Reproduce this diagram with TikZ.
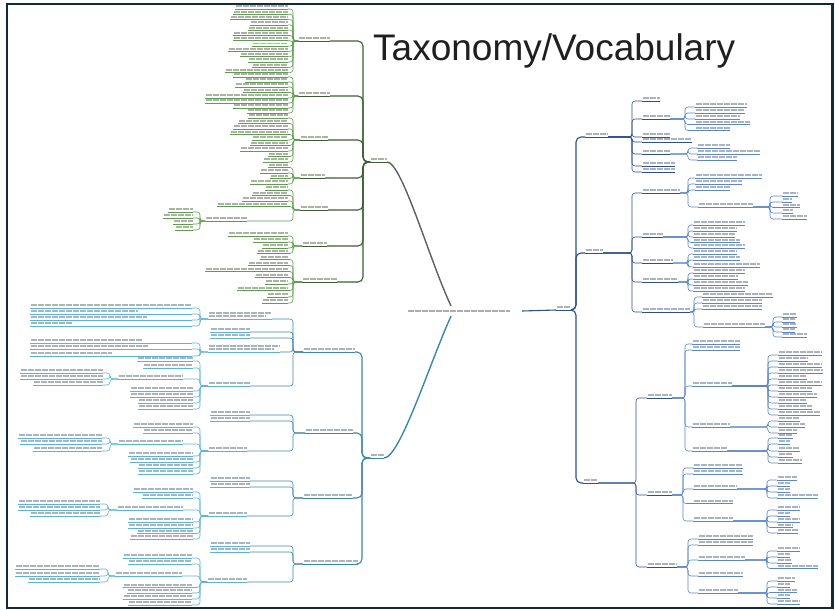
\documentclass[tikz,border=0pt]{standalone}
\usepackage{fontspec}
\newfontfamily\titlefont{Liberation Sans}
\definecolor{frame}{HTML}{0E2A40}
\definecolor{gmain}{HTML}{3F5E36}
\definecolor{gleaf}{HTML}{5E9E4E}
\definecolor{gtext}{HTML}{ABB3A6}
\definecolor{bmain}{HTML}{3C88A8}
\definecolor{bleaf}{HTML}{58B4D8}
\definecolor{btext}{HTML}{A8B5C0}
\definecolor{rmain}{HTML}{2E4F8C}
\definecolor{rleaf}{HTML}{5C86C4}
\definecolor{rtext}{HTML}{AAB3C4}
\definecolor{ctext}{HTML}{ADADAD}
\definecolor{spine}{HTML}{5A625A}

% a label: underline from x1 to x2 at height y, text drawn as a grey bar above it
\newcommand{\lblt}[7]{%
  \node[lab, minimum width={#3-#2}] (#1) at (#2,#4) {};
  \draw[ul, #5] (#1.west) -- (#1.east);
  \draw[txtbar] (#6+0.5,#4-2.6) -- (#7-0.5,#4-2.6);
}
\newcommand{\lbl}[5]{\lblt{#1}{#2}{#3}{#4}{#5}{#2}{#3}}
% two-line label
\newcommand{\lbltwo}[5]{%
  \node[lab, minimum width={#3-#2}] (#1) at (#2,#4) {};
  \draw[ul, #5] (#1.west) -- (#1.east);
  \draw[txtbar] (#2+0.5,#4-6.2) -- (#3-0.5,#4-6.2);
  \draw[txtbar] (#2+0.5,#4-2.6) -- (#3-6,#4-2.6);
}
% elbow connectors
\newcommand{\linkL}[4]{\draw[#4] (#1.west) -- ++(-#3,0) |- (#2.east);}
\newcommand{\linkR}[4]{\draw[#4] (#1.east) -- ++(#3,0) |- (#2.west);}
% leaf groups: parent, prefix, aligned end, list, elbow, colour
\newcommand{\leavesL}[6]{%
  \foreach \yy/\xs [count=\i] in {#4} {
    \lbl{#2-\i}{\xs}{#3}{\yy}{#6}
    \draw[twig, #6] (#1.west) -- ++(-#5,0) |- (#2-\i.east);
  }}
\newcommand{\leavesR}[6]{%
  \foreach \yy/\xe [count=\i] in {#4} {
    \lbl{#2-\i}{#3}{\xe}{\yy}{#6}
    \draw[twig, #6] (#1.east) -- ++(#5,0) |- (#2-\i.west);
  }}
% wrapped leaves: parent, prefix, x1, x2, y/text-end list, elbow, colour
\newcommand{\leavesLL}[7]{%
  \foreach \yy/\te [count=\i] in {#5} {
    \lblt{#2-\i}{#3}{#4}{\yy}{#7}{#3}{\te}
    \draw[twig, #7] (#1.west) -- ++(-#6,0) |- (#2-\i.east);
  }}

\begin{document}
\begin{tikzpicture}[x=1pt, y=-1pt,
  lab/.style={shape=rectangle, inner sep=0pt, outer sep=0pt, minimum height=0pt, anchor=west},
  ul/.style={line width=0.6pt},
  txtbar/.style={draw=tcol, line width=1.9pt, dash pattern=on 6pt off 1pt},
  trunk/.style={line width=1.1pt, rounded corners=5pt},
  twig/.style={line width=0.6pt, rounded corners=3pt}]
\useasboundingbox (0,0) rectangle (835,610);
\fill[white] (0,0) rectangle (835,610);

% ---------- title ----------
\node[anchor=base west, inner sep=0pt, font=\titlefont\fontsize{37}{40}\selectfont, text=black!88]
  (title) at (373,60) {Taxonomy/Vocabulary};

% ---------- centre ----------
\colorlet{tcol}{ctext}
\node[shape=rectangle, inner sep=0pt, minimum width=102, minimum height=10] (center) at (459,311) {};
\draw[txtbar] (center.west) -- (center.east);

% ---------- upper left (green) ----------
\colorlet{tcol}{gtext}
\lbl{groot}{370}{387}{162}{gmain}
\lbl{g1}{298}{330}{41}{gmain}
\lbl{g2}{298}{330}{96}{gmain}
\lbl{g3}{300}{328}{140}{gmain}
\lbl{g4}{300}{325}{178}{gmain}
\lbl{g5}{300}{328}{210}{gmain}
\lbl{g6}{302}{327}{246}{gmain}
\lbl{g7}{302}{337}{282}{gmain}
\foreach \k in {1,...,7} {\linkL{groot}{g\k}{7}{trunk, gmain}}
\leavesL{g1}{g1}{288}{9/235, 14.3/233, 19.6/230, 24.9/250, 30.2/248, 35.5/233, 40.8/233, 46.1/252, 51.4/228, 56.7/240, 62/248, 67.3/252, 72.6/225}{5}{gleaf}
\leavesL{g2}{g2}{288}{77/233, 82/245, 87/235, 92.5/243, 98/205, 103/205, 108/233, 113/247}{5}{gleaf}
\leavesL{g3}{g3}{288}{118/248, 123.5/238, 129/233, 134.5/230, 140/252, 145.5/250, 151/240, 156.5/268, 162/263}{7}{gleaf}
\leavesL{g4}{g4}{288}{167.5/268, 173/260, 178.5/270, 184/250}{7}{gleaf}
\leavesL{g5}{g5}{288}{190/265, 195.5/252, 201/242, 206.5/217}{7}{gleaf}
\lbl{g5x}{205}{247}{221}{gleaf}
\linkL{g5}{g5x}{7}{twig, gleaf}
\leavesL{g5x}{g5x}{193}{212/168, 218/163, 224/173, 230/175}{5}{gleaf}
\leavesL{g6}{g6}{288}{236/228, 242/253, 248/262, 253.5/257}{9}{gleaf}
\leavesL{g7}{g7}{288}{259.5/260, 265.5/248, 271.5/205, 277.5/255, 284/265, 290.5/237, 297/267, 303/262}{9}{gleaf}

% ---------- lower left (blue) ----------
\colorlet{tcol}{btext}
\lbl{broot}{370}{384}{458}{bmain}
\lbl{b1}{303}{355}{352}{bmain}
\lbl{b2}{305}{353}{433}{bmain}
\lbl{b3}{303}{353}{498}{bmain}
\lbl{b4}{303}{358}{564}{bmain}
\foreach \k in {1,...,4} {\linkL{broot}{b\k}{8}{trunk, bmain}}

\lbltwo{b1a}{208}{272}{319}{bleaf}
\lbl{b1b}{210}{250}{332}{bleaf}
\lbl{b1c}{210}{250}{338}{bleaf}
\lbltwo{b1d}{208}{280}{352}{bleaf}
\lbl{b1e}{208}{250}{386}{bleaf}
\foreach \c in {a,b,c,d,e} {\linkL{b1}{b1\c}{10}{twig, bmain}}
\leavesLL{b1a}{b1a}{30}{192}{308/192, 314/138, 320/147, 326/73}{8}{bleaf}
\leavesLL{b1d}{b1d}{30}{192}{343/143, 349/148, 356/112}{8}{bleaf}
\leavesL{b1e}{b1e}{193}{361/137, 368/143, 391/130, 397/130, 403/138, 409/138}{8}{bleaf}
\lbl{b1ex}{118}{183}{379}{bleaf}
\linkL{b1e}{b1ex}{8}{twig, bleaf}
\leavesL{b1ex}{b1ex}{103}{373/20, 379/20, 385/33}{8}{bleaf}

\lbl{b2a}{210}{250}{415}{bleaf}
\lbl{b2b}{210}{250}{421}{bleaf}
\lbl{b2c}{208}{247}{451}{bleaf}
\foreach \c in {a,b,c} {\linkL{b2}{b2\c}{12}{twig, bmain}}
\leavesL{b2c}{b2c}{193}{427/133, 433/143, 456/128, 462/130, 468/138, 474/138}{8}{bleaf}
\lbl{b2cx}{118}{183}{444}{bleaf}
\linkL{b2c}{b2cx}{8}{twig, bleaf}
\leavesL{b2cx}{b2cx}{102}{438/18, 444/20, 451/33}{8}{bleaf}

\lbl{b3a}{210}{250}{481}{bleaf}
\lbl{b3b}{210}{250}{487}{bleaf}
\lbl{b3c}{208}{247}{516}{bleaf}
\foreach \c in {a,b,c} {\linkL{b3}{b3\c}{10}{twig, bmain}}
\leavesL{b3c}{b3c}{193}{492/133, 498/142, 522/128, 528/128, 533.5/137, 539/130}{8}{bleaf}
\lbl{b3cx}{117}{183}{510}{bleaf}
\linkL{b3c}{b3cx}{8}{twig, bleaf}
\leavesL{b3cx}{b3cx}{100}{504/18, 510/18, 516/30}{9}{bleaf}

\lbl{b4a}{210}{250}{546}{bleaf}
\lbl{b4b}{210}{250}{552}{bleaf}
\lbl{b4c}{207}{247}{582}{bleaf}
\foreach \c in {a,b,c} {\linkL{b4}{b4\c}{10}{twig, bmain}}
\leavesL{b4c}{b4c}{192}{558/123, 564/128, 587.5/123, 593/127, 599/123, 605/128}{7}{bleaf}
\lbl{b4cx}{115}{182}{576}{bleaf}
\linkL{b4c}{b4cx}{7}{twig, bleaf}
\leavesL{b4cx}{b4cx}{100}{569/15, 576/15, 582/28}{7}{bleaf}

% ---------- right (dark blue) ----------
\colorlet{tcol}{rtext}
\lbl{rroot}{556}{571}{310}{rmain}
\lbl{r1}{585}{608}{137}{rmain}
\lbl{r2}{585}{603}{253}{rmain}
\lbl{r3}{583}{598}{483}{rmain}
\foreach \k in {1,2,3} {\linkR{rroot}{r\k}{5}{trunk, rmain}}

\leavesR{r1}{r1}{642}{101/660, 119/670, 137/670, 142/692, 154/670, 166/675, 172/675}{24}{rmain}
\leavesR{r1-2}{r1b}{695}{107/747, 113/745, 119/740, 124.5/750, 130.5/730}{15}{rleaf}
\leavesR{r1-5}{r1e}{697}{148/730, 154/760, 160/737}{18}{rleaf}

\leavesR{r2}{r2}{642}{193/680, 237/663, 263/673, 282/678, 312/690}{29}{rmain}
\leavesR{r2-1}{r2a}{695}{178/762, 184/742, 190/730}{8}{rleaf}
\lbl{r2ax}{698}{753}{207}{rleaf}
\linkR{r2-1}{r2ax}{8}{twig, rleaf}
\leavesR{r2ax}{r2ax}{782}{196/798, 202/792, 207.5/800, 213/793, 219/807}{17}{rleaf}
\leavesR{r2-2}{r2b}{693}{225/745, 231/737, 237/735, 242.5/740, 248/745}{25}{rleaf}
\leavesR{r2-3}{r2c}{693}{254/737, 260/740, 267/760}{15}{rleaf}
\leavesR{r2-4}{r2d}{693}{273/745, 279/738, 285/748, 291/745}{10}{rleaf}
\leavesR{r2-5}{r2e}{702}{297/773, 303/762, 309/762}{4}{rleaf}
\lbl{r2ex}{703}{765}{327}{rleaf}
\linkR{r2-5}{r2ex}{4}{twig, rleaf}
\leavesR{r2ex}{r2ex}{782}{317/797, 322/795, 327/797, 332/795, 337/807}{8}{rleaf}

\leavesR{r3}{r3}{647}{398/672, 495/672, 567/677}{38}{rmain}
\leavesR{r3-1}{r3a}{692}{344/740, 350/740, 386/732, 427/730, 451/727}{13}{rleaf}
\leavesR{r3a-3}{r3a3}{778}{355/822, 361/808, 367/822, 373/823, 379/807, 385/822, 391/812, 397/817, 403/807, 409/812, 415/820}{36}{rleaf}
\leavesR{r3a-4}{r3a4}{778}{421/800, 427/805, 433/797}{38}{rleaf}
\leavesR{r3a-5}{r3a5}{778}{438/793, 444/790, 451/800, 457/793, 463/802}{41}{rleaf}
\leavesR{r3-2}{r3b}{693}{468/743, 474/743, 489/737, 503.5/733, 521/733}{11}{rleaf}
\leavesR{r3b-3}{r3b3}{777}{480/797, 486/790, 492/790, 498/818}{30}{rleaf}
\leavesR{r3b-5}{r3b5}{777}{510/800, 516/790, 522/800, 527.5/793, 533/798}{34}{rleaf}
\leavesR{r3-3}{r3c}{698}{539/753, 545/753, 560/745, 576/743, 593/738}{11}{rleaf}
\leavesR{r3c-3}{r3c3}{777}{551/800, 557/790, 563/792, 568.5/818}{22}{rleaf}
\leavesR{r3c-5}{r3c5}{777}{581/795, 587/790, 592.5/797, 598/790, 604/800}{29}{rleaf}

% ---------- main connectors ----------
\draw[spine, line width=1.4pt] (groot.east) .. controls (402,162) and (430,262) .. ([xshift=-8pt]center.north);
\draw[bmain, line width=1.4pt] (broot.east) .. controls (400,458) and (430,362) .. ([xshift=-8pt]center.south);
\draw[rmain, line width=1.1pt] ([xshift=12pt]center.east) -- (rroot.west);

% ---------- frame ----------
\draw[frame, line width=2.6pt] (7,4) rectangle (832.5,608);
\end{tikzpicture}
\end{document}
